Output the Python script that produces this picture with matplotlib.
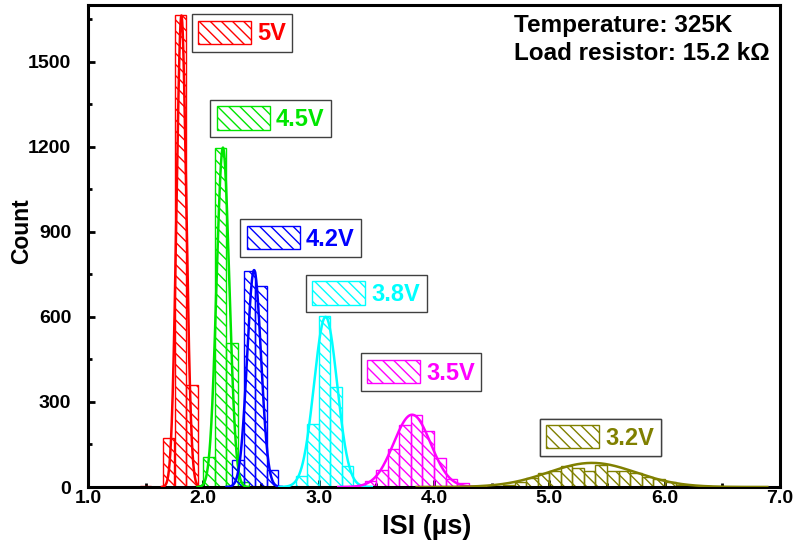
import numpy as np
import matplotlib
matplotlib.use("Agg")
import matplotlib.pyplot as plt
from matplotlib.patches import Patch
from matplotlib.ticker import MultipleLocator, FormatStrFormatter

plt.rcParams['font.family'] = ['Liberation Sans', 'DejaVu Sans']
plt.rcParams['font.weight'] = 'bold'
plt.rcParams['hatch.linewidth'] = 1.0

# bias voltage of each ISI histogram
labels = ["5V", "4.5V", "4.2V", "3.8V", "3.5V", "3.2V"]
colors = ["#FF0000", "#00E600", "#0000FF", "#00FFFF", "#FF00FF", "#808000"]

# bin centres (us) and counts, bin width 0.1 us
bins_5v = [1.50, 1.60, 1.70, 1.80, 1.90]
counts_5v = [5, 0, 174, 1663, 361]
bins_45v = [2.05, 2.15, 2.25, 2.35]
counts_45v = [107, 1197, 509, 18]
bins_42v = [2.30, 2.40, 2.50, 2.60]
counts_42v = [94, 763, 709, 61]
bins_38v = [2.85, 2.95, 3.05, 3.15, 3.25]
counts_38v = [40, 222, 602, 352, 73]
bins_35v = [3.45, 3.55, 3.65, 3.75, 3.85, 3.95, 4.05, 4.15, 4.25]
counts_35v = [20, 61, 135, 217, 255, 199, 102, 28, 15]
bins_32v = [4.55, 4.65, 4.75, 4.85, 4.95, 5.05, 5.15, 5.25, 5.35, 5.45,
            5.55, 5.65, 5.75, 5.85, 5.95, 6.05, 6.15, 6.25, 6.35]
counts_32v = [4, 8, 17, 31, 49, 57, 73, 67, 55, 79,
              55, 57, 49, 37, 28, 16, 8, 4, 2]

# gaussian fit results: centre (us), sigma (us), amplitude (count)
fit_center = [1.81, 2.17, 2.44, 3.06, 3.81, 5.37]
fit_sigma = [0.042, 0.055, 0.06, 0.10, 0.16, 0.38]
fit_amp = [1663, 1197, 765, 600, 255, 85]

all_bins = [bins_5v, bins_45v, bins_42v, bins_38v, bins_35v, bins_32v]
all_counts = [counts_5v, counts_45v, counts_42v, counts_38v, counts_35v, counts_32v]

# upper-left corner of each legend box, axes fraction
legend_pos = [(0.150, 0.981), (0.177, 0.803), (0.220, 0.555),
              (0.315, 0.440), (0.394, 0.277), (0.653, 0.142)]

hatch = '\\\\\\'

fig = plt.figure(figsize=(7.95, 5.52), dpi=100)
ax = fig.add_axes([88 / 795, 65 / 552, 692 / 795, 482 / 552])

for i in range(len(labels)):
    c = colors[i]
    ax.bar(all_bins[i], all_counts[i], width=0.1, facecolor='none',
           edgecolor=c, hatch=hatch, linewidth=1.0, zorder=2)
    xc, w, a = fit_center[i], fit_sigma[i], fit_amp[i]
    xs = np.linspace(xc - 4 * w, xc + 4 * w, 300)
    ax.plot(xs, a * np.exp(-(xs - xc) ** 2 / (2 * w ** 2)), color=c, lw=1.8, zorder=3)

    h = Patch(facecolor='none', edgecolor=c, hatch=hatch, linewidth=1.0)
    leg = ax.legend([h], [labels[i]], loc='upper left', bbox_to_anchor=legend_pos[i],
                    bbox_transform=ax.transAxes, fancybox=False, framealpha=1,
                    edgecolor='0.25', borderpad=0.27, borderaxespad=0,
                    handlelength=2.25, handleheight=1.15, handletextpad=0.25,
                    prop={'family': 'Liberation Sans', 'weight': 'bold', 'size': 17})
    leg.get_frame().set_linewidth(1.0)
    leg.get_texts()[0].set_color(c)
    ax.add_artist(leg)

ax.set_xlim(1.0, 7.0)
ax.set_ylim(0, 1700)
ax.xaxis.set_major_locator(MultipleLocator(1.0))
ax.xaxis.set_minor_locator(MultipleLocator(0.5))
ax.xaxis.set_major_formatter(FormatStrFormatter('%.1f'))
ax.yaxis.set_major_locator(MultipleLocator(300))
ax.yaxis.set_minor_locator(MultipleLocator(150))

for s in ax.spines.values():
    s.set_linewidth(2.2)
ax.tick_params(which='both', direction='in', width=2, top=False, right=False,
               labelsize=14)
ax.tick_params(which='major', length=5)
ax.tick_params(which='minor', length=3)
ax.tick_params(axis='x', pad=2)
ax.tick_params(axis='y', pad=12)

ax.set_xlabel('ISI (\u00b5s)', fontsize=19.5, fontweight='bold')
ax.set_ylabel('Count', fontsize=16.5, fontweight='bold')
ax.xaxis.set_label_coords(0.49, -0.055)
ax.yaxis.set_label_coords(-0.08, 0.53)

ax.text(0.6156, 0.9446, 'Temperature: 325K', transform=ax.transAxes,
        fontsize=17.5, fontweight='bold', va='baseline')
ax.text(0.6156, 0.886, 'Load resistor: 15.2 k\u03a9', transform=ax.transAxes,
        fontsize=17.5, fontweight='bold', va='baseline')

fig.savefig('out.png', dpi=100)
